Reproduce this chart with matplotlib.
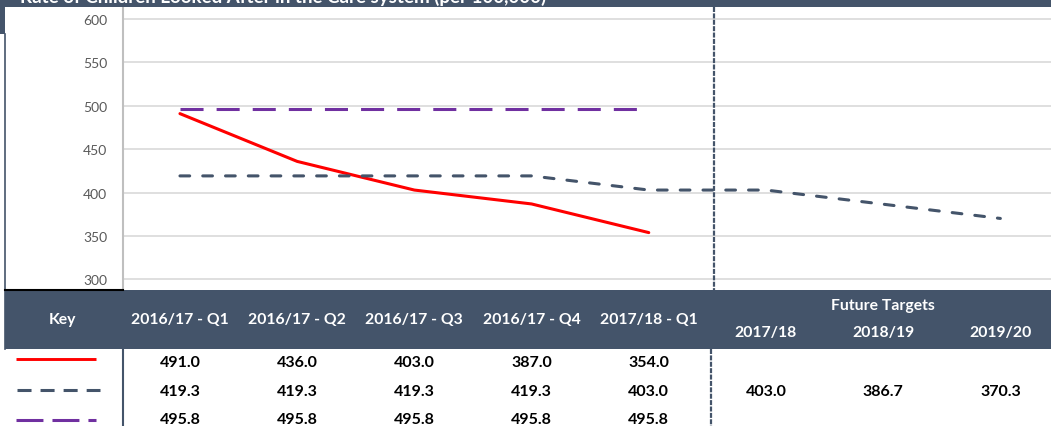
import matplotlib
matplotlib.use("Agg")
import matplotlib.pyplot as plt
from matplotlib.patches import Rectangle
from matplotlib.transforms import blended_transform_factory

# chart data
categories = ["2016/17 - Q1", "2016/17 - Q2", "2016/17 - Q3", "2016/17 - Q4",
              "2017/18 - Q1", "2017/18", "2018/19", "2019/20"]
actual = [491.0, 436.0, 403.0, 387.0, 354.0]
target = [419.3, 419.3, 419.3, 419.3, 403.0, 403.0, 386.7, 370.3]
comparator = [495.8, 495.8, 495.8, 495.8, 495.8]
y_ticks = [300, 350, 400, 450, 500, 550, 600]
future_label = "Future Targets"
title = "Rate of Children Looked After in the Care system (per 100,000)"

W, H = 1051, 427
dark = "#44546A"
red = "#FF0000"
purple = "#7030A0"

plt.rcParams['font.family'] = ['Lato', 'DejaVu Sans']
plt.rcParams['lines.scale_dashes'] = False

fig = plt.figure(figsize=(W / 100, H / 100), dpi=100)
fig.patch.set_facecolor("white")

# main line chart
ax = fig.add_axes([123 / W, (H - 291) / H, (W - 123) / W, (291 - 8) / H], zorder=1)
ax.plot(range(len(actual)), actual, color=red, lw=2.2, solid_capstyle='round', zorder=3)
ax.plot(range(len(target)), target, color=dark, lw=2.2, dashes=(7.0, 9.4),
        dash_capstyle='round', zorder=3)
ax.plot(range(len(comparator)), comparator, color=purple, lw=2.2, dashes=(16.6, 9.4),
        dash_capstyle='butt', zorder=3)
ax.set_xlim(-0.486, 7.432)
ax.set_ylim(287.9, 613.8)
ax.set_yticks(y_ticks)
ax.set_xticks([])
ax.tick_params(axis='y', length=0, pad=11.5, labelsize=10, labelcolor='#595959')
ax.grid(axis='y', color='#D9D9D9', lw=1.2)
ax.set_axisbelow(True)
for s in ['top', 'right', 'bottom']:
    ax.spines[s].set_visible(False)
ax.spines['left'].set_color('#BFBFBF')
ax.spines['left'].set_linewidth(1.5)

# overlay in pixel coords for the frame and the table
ov = fig.add_axes([0, 0, 1, 1], zorder=2)
ov.set_xlim(0, W)
ov.set_ylim(H, 0)
ov.axis('off')
tr = blended_transform_factory(ax.transData, ov.transData)

# title band (cut off at the top, like the source)
ov.add_patch(Rectangle((0, 0), W, 8, color=dark, lw=0))
ov.text(20, 2.5, title, color='white', fontweight='bold', fontsize=13.5, va='baseline')
ov.add_patch(Rectangle((0, 0), 5, 35, color=dark, lw=0))
ov.plot([5, 5], [35, 350], color=dark, lw=1.2)
ov.plot([5, 123], [291, 291], color='black', lw=1.5)

# separator between actuals and future targets
ov.plot([714, 714], [8, 291], color=dark, lw=1.6, dashes=(3.6, 1.0))
ov.plot([711, 711], [350, H], color=dark, lw=1.6, dashes=(3.6, 1.0))

# table header
ov.add_patch(Rectangle((5, 291), W - 5, 59, color=dark, lw=0))
ov.plot([122.5, 122.5], [350, H], color=dark, lw=1.5)
hdr = dict(color='white', fontweight='bold', fontsize=11.3, ha='center', va='center')
ov.text(62, 320.5, "Key", **hdr)
for i, cat in enumerate(categories[:5]):
    ov.text(i, 320.5, cat, transform=tr, **hdr)
for i, cat in enumerate(categories[5:], start=5):
    ov.text(i, 333, cat, transform=tr, **hdr)
ov.text(6, 306.5, future_label, transform=tr, **hdr)

# table rows
val = dict(color='black', fontweight='bold', fontsize=11.5, ha='center', va='center')
for row, y in [(actual, 363), (target, 392.5), (comparator, 420.5)]:
    for i, v in enumerate(row):
        ov.text(i, y, f"{v:.1f}", transform=tr, **val)

# key samples
ov.plot([15.5, 96], [360, 360], color=red, lw=2.1, solid_capstyle='butt')
ov.plot([17, 100], [391, 391], color=dark, lw=2.2, dashes=(10.1, 6.5))
ov.plot([16, 96], [421, 421], color=purple, lw=2.2, dashes=(19.4, 6.5))

fig.savefig("out.png", dpi=100)
